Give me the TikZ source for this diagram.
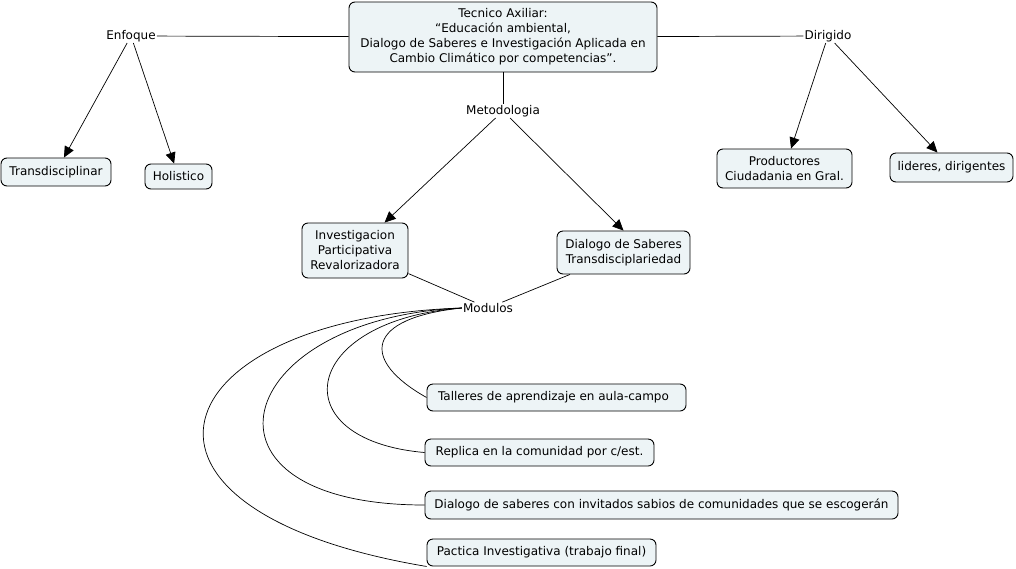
\documentclass[tikz,border=0pt]{standalone}
\usepackage{fontspec}
\setmainfont{DejaVu Sans}
\usetikzlibrary{arrows.meta}
\definecolor{boxfill}{RGB}{237,244,246}
\tikzset{
  concept/.style={draw=black, line width=0.9pt, fill=boxfill, rounded corners=6pt, align=center, inner sep=0pt,
    font=\fontsize{12}{15}\selectfont},
  phrase/.style={inner sep=1pt, font=\fontsize{12}{15}\selectfont, fill=white},
  link/.style={line width=0.7pt, draw=black},
  arrowlink/.style={link, -{Triangle[length=11pt,width=10pt]}},
}
\begin{document}
\begin{tikzpicture}[x=1pt,y=-1pt]
\useasboundingbox (0,0) rectangle (1016,568);
% concepts
\node[concept, minimum width=308, minimum height=70] (top) at (503,37)
  {Tecnico Axiliar:\\``Educación ambiental,\\Dialogo de Saberes e Investigación Aplicada en\\Cambio Climático por competencias''.};
\node[concept, minimum width=110, minimum height=28] (trans) at (56,172) {Transdisciplinar};
\node[concept, minimum width=67, minimum height=25] (holis) at (178.5,176.5) {Holistico};
\node[concept, minimum width=135, minimum height=39] (prod) at (784.5,168.5) {Productores\\Ciudadania en Gral.};
\node[concept, minimum width=123, minimum height=29] (lid) at (951.5,167.5) {lideres, dirigentes};
\node[concept, minimum width=106, minimum height=55] (inv) at (355,250.5) {Investigacion\\Participativa\\Revalorizadora};
\node[concept, minimum width=133, minimum height=43] (dsab) at (623.5,252.5) {Dialogo de Saberes\\Transdisciplariedad};
\node[concept, minimum width=259, minimum height=27] (tall) at (556.5,397.5) {Talleres de aprendizaje en aula-campo\hspace{6pt}};
\node[concept, minimum width=229, minimum height=27] (repl) at (539.5,452.5) {Replica en la comunidad por c/est.};
\node[concept, minimum width=473, minimum height=28] (dial) at (661.5,505) {Dialogo de saberes con invitados sabios de comunidades que se escogerán};
\node[concept, minimum width=229, minimum height=27] (pact) at (541.5,552.5) {Pactica Investigativa (trabajo final)};
% linking phrases
\node[phrase] (enf) at (131,36) {Enfoque};
\node[phrase] (dir) at (828,36) {Dirigido};
\node[phrase] (met) at (503,111) {Metodologia};
\node[phrase] (mod) at (488,308) {Modulos};
% connectors
\draw[link] (top) -- (enf);
\draw[link] (top) -- (dir);
\draw[link] (top) -- (met);
\draw[arrowlink] (enf) -- (trans);
\draw[arrowlink] (enf) -- (holis);
\draw[arrowlink] (dir) -- (prod);
\draw[arrowlink] (dir) -- (lid);
\draw[arrowlink] (met) -- (inv);
\draw[arrowlink] (met) -- (dsab.north);
\draw[link] (inv) -- (mod);
\draw[link] (dsab) -- (mod);
\draw[link] (mod.west) .. controls (365,318) and (360,360) .. (tall.west);
\draw[link] (mod.west) .. controls (300,320) and (280,440) .. (repl.west);
\draw[link] (mod.west) .. controls (230,318) and (180,505) .. (dial.west);
\draw[link] (mod.west) .. controls (160,318) and (90,510) .. (pact.south west);
\end{tikzpicture}
\end{document}
